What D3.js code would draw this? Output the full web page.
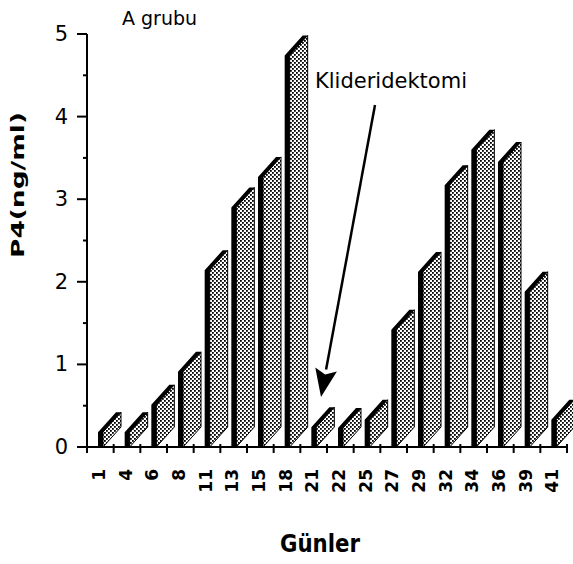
<!DOCTYPE html>
<html>
<head>
<meta charset="utf-8">
<script src="https://cdn.jsdelivr.net/npm/d3@7"></script>
<style>
  html, body { margin: 0; padding: 0; background: #fff; }
  svg { display: block; }
</style>
</head>
<body>
<svg id="chart" width="573" height="564"></svg>
<script>
// ---- data ----
const days = ["1","4","6","8","11","13","15","18","21","22","25","27","29","32","34","36","39","41"];
const p4 = [0.18,0.18,0.51,0.91,2.14,2.90,3.27,4.74,0.24,0.23,0.33,1.42,2.12,3.17,3.60,3.45,1.88,0.33];
const yTicks = [0,1,2,3,4,5];
const title = "A grubu";
const xTitle = "Günler";
const yTitle = "P4(ng/ml)";
const annotation = "Klideridektomi";

// ---- layout ----
const svg = d3.select("#chart");
const x = d3.scaleBand().domain(days).range([87, 567]).padding(0);
const y = d3.scaleLinear().domain([0, 5]).range([447, 34]);

const defs = svg.append("defs");
const pat = defs.append("pattern").attr("id", "dots")
  .attr("patternUnits", "userSpaceOnUse").attr("width", 4).attr("height", 4);
pat.append("rect").attr("width", 4).attr("height", 4).attr("fill", "#fff");
pat.append("rect").attr("x", 0).attr("y", 0).attr("width", 1.8).attr("height", 1.8).attr("fill", "#000");
pat.append("rect").attr("x", 2).attr("y", 2).attr("width", 1.8).attr("height", 1.8).attr("fill", "#000");

const fw = 5, dx = 18, dy = 20, off = 11;
const base = y(0);

const bars = svg.append("g");
days.forEach((d, i) => {
  const x0 = x(d) + off;
  const yv = y(p4[i]);
  // side face
  bars.append("path")
    .attr("d", `M${x0+fw},${yv} L${x0+fw+dx},${yv-dy} L${x0+fw+dx},${base-dy} L${x0+fw},${base} Z`)
    .attr("fill", "url(#dots)")
    .attr("stroke", "#000").attr("stroke-width", 1);
  // front + top face (black)
  bars.append("path")
    .attr("d", `M${x0},${base} L${x0},${yv} L${x0+dx},${yv-dy} L${x0+dx+fw},${yv-dy} L${x0+fw},${yv} L${x0+fw},${base} Z`)
    .attr("fill", "#000");
});

// ---- axes ----
const ax = svg.append("g").attr("stroke", "#000").attr("stroke-width", 2).attr("fill", "none");
ax.append("line").attr("x1", 87).attr("x2", 87).attr("y1", y(5)).attr("y2", base + 5);
ax.append("line").attr("x1", 87).attr("x2", 567).attr("y1", base).attr("y2", base);
yTicks.forEach(t => {
  ax.append("line").attr("x1", 77).attr("x2", 87).attr("y1", y(t)).attr("y2", y(t));
});
d3.range(0.5, 5, 1).forEach(t => {
  ax.append("line").attr("x1", 83).attr("x2", 87).attr("y1", y(t)).attr("y2", y(t));
});
days.concat(["end"]).forEach((d, i) => {
  const xx = i < days.length ? x(d) : 567;
  ax.append("line").attr("x1", xx).attr("x2", xx).attr("y1", base - 3).attr("y2", base + 6);
});

svg.append("g").selectAll("text").data(yTicks).join("text")
  .attr("x", 68).attr("y", t => y(t))
  .attr("text-anchor", "end").attr("dominant-baseline", "central")
  .attr("font-family", "DejaVu Sans").attr("font-size", 21)
  .text(t => t);

svg.append("g").selectAll("text").data(days).join("text")
  .attr("transform", d => `translate(${x(d) + 12},469) rotate(-90)`)
  .attr("text-anchor", "end").attr("dominant-baseline", "central")
  .attr("font-family", "DejaVu Sans").attr("font-weight", "bold").attr("font-size", 17)
  .text(d => d);

// ---- titles ----
svg.append("text").attr("x", 122).attr("y", 25)
  .attr("font-family", "DejaVu Sans").attr("font-size", 20)
  .attr("textLength", 75).attr("lengthAdjust", "spacingAndGlyphs")
  .text(title);

svg.append("text").attr("x", 280).attr("y", 552)
  .attr("font-family", "DejaVu Sans").attr("font-weight", "bold").attr("font-size", 25)
  .attr("textLength", 80).attr("lengthAdjust", "spacingAndGlyphs")
  .text(xTitle);

svg.append("text").attr("transform", "translate(24,258) rotate(-90)")
  .attr("font-family", "DejaVu Sans").attr("font-weight", "bold").attr("font-size", 17)
  .attr("textLength", 146).attr("lengthAdjust", "spacingAndGlyphs")
  .text(yTitle);

svg.append("text").attr("x", 315).attr("y", 88)
  .attr("font-family", "DejaVu Sans").attr("font-size", 22)
  .attr("textLength", 152).attr("lengthAdjust", "spacingAndGlyphs")
  .text(annotation);

// ---- arrow ----
const ax1 = 375, ay1 = 105, tipX = 321, tipY = 397;
const ang = Math.atan2(tipY - ay1, tipX - ax1);
const hl = 28, hw = 11;
const bx = tipX - hl * Math.cos(ang), by = tipY - hl * Math.sin(ang);
svg.append("line").attr("x1", ax1).attr("y1", ay1).attr("x2", bx).attr("y2", by)
  .attr("stroke", "#000").attr("stroke-width", 2.5);
svg.append("path")
  .attr("d", `M${tipX},${tipY} L${bx + hw*Math.sin(ang)},${by - hw*Math.cos(ang)} L${bx + 5*Math.cos(ang)},${by + 5*Math.sin(ang)} L${bx - hw*Math.sin(ang)},${by + hw*Math.cos(ang)} Z`)
  .attr("fill", "#000");
</script>
</body>
</html>
